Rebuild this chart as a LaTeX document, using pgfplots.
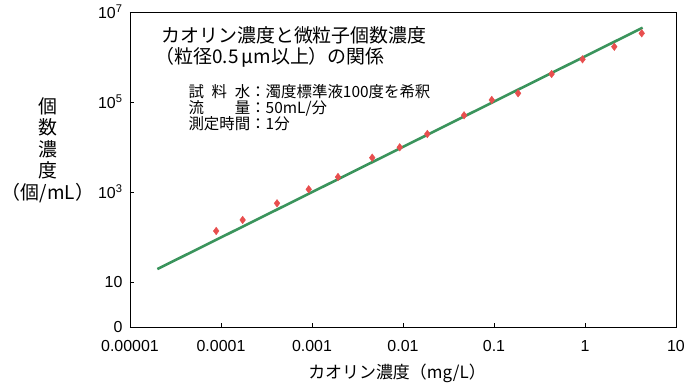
\documentclass[border=0pt]{standalone}
\usepackage{pgfplots}
\pgfplotsset{compat=1.18}
\usepackage{fontspec}
\setmainfont{Liberation Sans}
\newfontfamily\jp{Noto Sans CJK JP}
\definecolor{lgreen}{RGB}{58,148,92}
\definecolor{mred}{RGB}{232,78,78}
\begin{document}
\begin{tikzpicture}[x=1bp,y=1bp]
\path[use as bounding box] (0bp,0bp) rectangle (696bp,389bp);
\begin{axis}[
  at={(130bp,62bp)}, anchor=south west,
  scale only axis, width=546bp, height=315bp,
  xmode=log, ymode=log,
  xmin=1e-5, xmax=10, ymin=1, ymax=1e7,
  axis line style={black, line width=0.9pt},
  xtick={1e-5,1e-4,1e-3,1e-2,1e-1,1,10},
  xticklabels={0.00001,0.0001,0.001,0.01,0.1,1,10},
  ytick={1,10,1000,100000,10000000},
  yticklabels={0,10,10\textsuperscript{3},10\textsuperscript{5},10\textsuperscript{7}},
  xminorticks=false, yminorticks=false,
  xtick pos=bottom, ytick pos=left,
  major tick length=4bp,
  tick style={black, line width=0.6pt},
  tick label style={font=\fontsize{16}{18}\selectfont},
  /pgf/number format/assume math mode=true,
  xticklabel style={yshift=-10bp},
  yticklabel style={xshift=-4bp},
  clip=false,
]
\addplot[lgreen, line width=2.6pt, no marks] coordinates {(2.0e-5,19.4) (4.3,4.48e6)};
\addplot[only marks, mark=diamond*, mark size=3.8pt, mark options={fill=mred, draw=mred}] coordinates {
(8.85e-5,136)
(1.73e-4,239)
(4.13e-4,561)
(9.2e-4,1148)
(1.93e-3,2154)
(4.59e-3,5785)
(9.2e-3,9850)
(0.0185,19450)
(0.0469,50600)
(0.0946,111000)
(0.184,156000)
(0.43,419000)
(0.94,889000)
(2.1,1690000)
(4.2,3360000)
};
\end{axis}
\node[anchor=west, font=\jp\fontsize{19}{22}\selectfont] at (158bp,354bp) {カオリン濃度と微粒子個数濃度};
\node[anchor=west, font=\jp\fontsize{19}{22}\selectfont] at (152bp,332bp) {（粒径0.5\,μm以上）の関係};
\node[anchor=west, font=\jp\fontsize{15.5}{17}\selectfont] at (185bp,297bp) {\makebox[4em][s]{試\hfil 料\hfil 水}：濁度標準液100度を希釈};
\node[anchor=west, font=\jp\fontsize{15.5}{17}\selectfont] at (185bp,281bp) {\makebox[4em][s]{流\hfil 量}：50mL/分};
\node[anchor=west, font=\jp\fontsize{15.5}{17}\selectfont] at (185bp,265bp) {測定時間：1分};
\node[align=center, font=\jp\fontsize{19}{21.5}\selectfont] at (48bp,239bp) {個\\数\\濃\\度\\（個/mL）};
\node[font=\jp\fontsize{17}{19}\selectfont] at (397bp,16bp) {カオリン濃度（mg/L）};
\end{tikzpicture}
\end{document}
